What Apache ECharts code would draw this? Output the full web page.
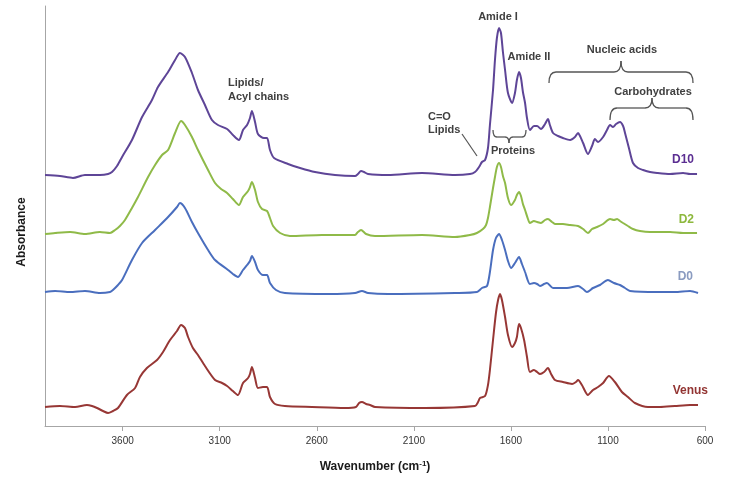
<!DOCTYPE html>
<html>
<head>
<meta charset="utf-8">
<script src="https://cdn.jsdelivr.net/npm/echarts@6/dist/echarts.min.js"></script>
<style>html,body{margin:0;padding:0;background:#fff}#c{width:738px;height:482px}</style>
</head>
<body>
<div id="c"></div>
<script>
// Tick labels of the wavenumber axis (cm-1)
var tickLabels = [3600, 3100, 2600, 2100, 1600, 1100, 600];

// D10
var wnD10 = [4000,3923,3856,3794,3717,3675,3655,3629,3603,3552,3500,3449,3418,3366,3330,3305,3279,3243,3212,3176,3140,3109,3062,3032,3001,2980,2959,2944,2934,2918,2903,2872,2856,2841,2820,2748,2686,2609,2506,2403,2388,2372,2357,2336,2233,2058,1888,1811,1785,1764,1749,1733,1718,1708,1692,1682,1672,1661,1651,1641,1630,1615,1594,1579,1569,1558,1548,1538,1527,1517,1502,1481,1465,1445,1424,1409,1399,1383,1357,1332,1295,1270,1254,1244,1228,1203,1182,1167,1151,1125,1105,1089,1074,1058,1038,1022,1012,992,971,945,919,883,847,780,713,677,641];
var absD10 = [2.51,2.50,2.48,2.51,2.51,2.52,2.54,2.60,2.69,2.86,3.09,3.26,3.39,3.54,3.66,3.73,3.69,3.53,3.36,3.21,3.06,3.01,2.97,2.91,2.86,2.96,3.01,3.08,3.15,3.04,2.92,2.88,2.88,2.76,2.68,2.62,2.58,2.54,2.51,2.50,2.52,2.55,2.54,2.52,2.51,2.53,2.51,2.52,2.54,2.59,2.64,2.66,2.78,3.01,3.36,3.66,3.88,3.98,3.93,3.74,3.56,3.33,3.23,3.33,3.46,3.54,3.48,3.34,3.23,3.08,2.96,3.00,3.00,2.97,3.02,3.07,3.01,2.93,2.90,2.88,2.86,2.89,2.93,2.90,2.83,2.72,2.80,2.87,2.84,2.89,2.96,3.01,2.99,3.02,3.04,3.00,2.93,2.78,2.63,2.58,2.56,2.54,2.53,2.52,2.53,2.52,2.52];

// D2
var wnD2 = [4000,3948,3871,3794,3717,3665,3639,3614,3588,3552,3521,3469,3433,3397,3366,3330,3299,3279,3243,3212,3160,3124,3093,3062,3032,3001,2980,2954,2944,2934,2918,2903,2882,2856,2841,2825,2789,2738,2573,2403,2388,2372,2346,2300,2058,1888,1811,1775,1744,1728,1718,1708,1692,1682,1672,1661,1651,1641,1630,1615,1599,1579,1569,1558,1548,1538,1527,1512,1502,1481,1465,1445,1424,1409,1388,1373,1332,1295,1254,1228,1203,1182,1156,1125,1089,1069,1053,1038,1022,997,971,935,883,832,780,713,641];
var absD2 = [1.92,1.93,1.94,1.92,1.94,1.93,1.96,2.00,2.06,2.18,2.29,2.49,2.61,2.71,2.76,2.93,3.05,3.01,2.89,2.76,2.56,2.43,2.37,2.33,2.27,2.21,2.29,2.35,2.39,2.44,2.36,2.24,2.17,2.15,2.08,2.00,1.93,1.90,1.91,1.91,1.94,1.96,1.92,1.90,1.91,1.89,1.91,1.93,1.97,2.01,2.08,2.19,2.38,2.49,2.59,2.63,2.59,2.50,2.43,2.28,2.21,2.26,2.31,2.34,2.30,2.22,2.16,2.07,2.03,2.05,2.04,2.03,2.06,2.07,2.04,2.02,2.02,2.01,2.00,1.97,1.93,1.97,1.99,2.02,2.07,2.06,2.07,2.05,2.03,2.00,1.97,1.95,1.94,1.94,1.94,1.93,1.93];

// D0
var wnD0 = [4000,3948,3871,3794,3717,3665,3650,3624,3603,3552,3500,3433,3366,3320,3305,3279,3243,3212,3160,3124,3057,3032,3006,2980,2959,2944,2934,2918,2903,2877,2856,2841,2810,2764,2532,2403,2367,2336,2233,1888,1775,1749,1723,1708,1692,1677,1661,1646,1630,1615,1599,1579,1558,1543,1527,1502,1481,1465,1450,1429,1414,1383,1311,1254,1228,1208,1177,1141,1100,1069,1038,1012,986,847,755,677,636];
var absD0 = [1.34,1.35,1.34,1.35,1.33,1.34,1.36,1.41,1.46,1.66,1.83,1.96,2.09,2.19,2.23,2.18,2.04,1.93,1.76,1.66,1.56,1.52,1.49,1.56,1.61,1.65,1.70,1.64,1.56,1.51,1.51,1.43,1.36,1.33,1.32,1.33,1.35,1.33,1.32,1.33,1.34,1.38,1.40,1.54,1.76,1.88,1.92,1.86,1.76,1.65,1.58,1.63,1.69,1.62,1.54,1.42,1.43,1.42,1.40,1.42,1.43,1.38,1.38,1.40,1.37,1.34,1.38,1.41,1.46,1.43,1.41,1.38,1.35,1.34,1.34,1.35,1.33];

// Venus
var wnVenus = [4000,3923,3845,3784,3758,3732,3701,3675,3650,3624,3578,3536,3511,3475,3423,3392,3356,3320,3299,3279,3263,3238,3212,3176,3124,3088,3062,3032,3006,2980,2954,2944,2934,2918,2903,2877,2856,2841,2815,2764,2625,2455,2398,2382,2367,2346,2326,2300,2042,1785,1769,1759,1733,1718,1708,1692,1677,1666,1656,1646,1630,1615,1594,1579,1569,1558,1548,1532,1517,1502,1481,1465,1450,1429,1409,1393,1373,1332,1285,1265,1254,1234,1203,1177,1151,1125,1095,1064,1028,997,961,894,832,755,677,636];
var absVenus = [0.19,0.20,0.19,0.21,0.20,0.18,0.15,0.13,0.15,0.18,0.31,0.38,0.49,0.58,0.66,0.74,0.86,0.95,1.01,0.98,0.89,0.78,0.71,0.60,0.46,0.43,0.40,0.35,0.31,0.43,0.48,0.52,0.59,0.48,0.38,0.39,0.39,0.29,0.22,0.20,0.19,0.18,0.19,0.23,0.24,0.22,0.21,0.19,0.18,0.20,0.24,0.28,0.30,0.41,0.56,0.86,1.13,1.26,1.32,1.26,1.09,0.91,0.79,0.83,0.89,1.02,0.98,0.86,0.69,0.54,0.56,0.54,0.52,0.54,0.58,0.52,0.46,0.44,0.42,0.44,0.46,0.41,0.31,0.36,0.39,0.43,0.50,0.44,0.34,0.29,0.23,0.19,0.19,0.20,0.21,0.21];

var seriesNames = ['D10', 'D2', 'D0', 'Venus'];

function zip(a, b) { return a.map(function (v, i) { return [v, b[i]]; }); }

var FONT = 'Liberation Sans, Arial, sans-serif';
var lineColors = { D10: '#5E4597', D2: '#8FBA48', D0: '#4A6EBE', Venus: '#973735' };
var labelColors = { D10: '#5B2E92', D2: '#8DB83D', D0: '#8A9BC0', Venus: '#923432' };
var seriesData = { D10: zip(wnD10, absD10), D2: zip(wnD2, absD2), D0: zip(wnD0, absD0), Venus: zip(wnVenus, absVenus) };

var chart = echarts.init(document.getElementById('c'), null, { renderer: 'canvas' });

var annoStyle = { fill: '#404040', font: 'bold 11px ' + FONT };
var braceStroke = { stroke: '#555555', lineWidth: 1.3, fill: null };

function txt(x, y, s, align) {
  return { type: 'text', x: x, y: y, style: Object.assign({ text: s, align: align || 'center', verticalAlign: 'middle' }, annoStyle) };
}
// curly brace: ends at yEnd, bar at yBar, tip at (xm, yTip), corner radius r
function brace(xl, xr, xm, yEnd, yBar, yTip, r) {
  var out = [];
  function bz(x1, y1, cx, cy, x2, y2) { out.push({ type: 'bezierCurve', shape: { x1: x1, y1: y1, cpx1: cx, cpy1: cy, x2: x2, y2: y2 }, style: braceStroke }); }
  function ln(x1, y1, x2, y2) { out.push({ type: 'line', shape: { x1: x1, y1: y1, x2: x2, y2: y2 }, style: braceStroke }); }
  bz(xl, yEnd, xl, yBar, xl + r, yBar);
  ln(xl + r, yBar, xm - r, yBar);
  bz(xm - r, yBar, xm, yBar, xm, yTip);
  bz(xm, yTip, xm, yBar, xm + r, yBar);
  ln(xm + r, yBar, xr - r, yBar);
  bz(xr - r, yBar, xr, yBar, xr, yEnd);
  return out;
}

var labelPos = { D10: [694, 160], D2: [694, 220], D0: [693, 277], Venus: [708, 391] };

var graphics = [
  { type: 'text', x: 22, y: 232, rotation: Math.PI / 2, style: { text: 'Absorbance', fill: '#1a1a1a', font: 'bold 12px ' + FONT, align: 'center', verticalAlign: 'middle' } },
  txt(498, 17, 'Amide I'),
  txt(529, 57, 'Amide II'),
  txt(622, 50, 'Nucleic acids'),
  txt(653, 92, 'Carbohydrates'),
  txt(513, 151, 'Proteins'),
  txt(428, 117, 'C=O', 'left'),
  txt(428, 130, 'Lipids', 'left'),
  txt(228, 83, 'Lipids/', 'left'),
  txt(228, 97, 'Acyl chains', 'left'),
  { type: 'line', shape: { x1: 462, y1: 134, x2: 477, y2: 156 }, style: { stroke: '#555555', lineWidth: 1.2 } }
]
  .concat(brace(549, 693, 621, 83, 72, 61, 7))
  .concat(brace(610, 693, 652, 120, 108, 98, 7))
  .concat(brace(493, 526, 509, 130, 137, 143, 4));

seriesNames.forEach(function (n) {
  var p = labelPos[n];
  graphics.push({ type: 'text', x: p[0], y: p[1], style: { text: n, fill: labelColors[n], font: 'bold 12px ' + FONT, align: 'right', verticalAlign: 'middle' } });
});

chart.setOption({
  animation: false,
  backgroundColor: '#ffffff',
  grid: { left: 45, right: 33, top: 6, bottom: 56, containLabel: false },
  xAxis: {
    type: 'value', inverse: true, min: 600, max: 4000,
    axisLine: { show: true, lineStyle: { color: '#A6A6A6', width: 1 } },
    axisTick: { show: true, length: 5, lineStyle: { color: '#A6A6A6' }, customValues: tickLabels },
    axisLabel: { customValues: tickLabels, fontSize: 10, color: '#333333', fontFamily: FONT, margin: 10, formatter: function (v) { return String(v); } },
    splitLine: { show: false },
    name: '{a|Wavenumber (cm}{s|-1}{a|)}',
    nameLocation: 'middle', nameGap: 34,
    nameTextStyle: {
      rich: {
        a: { fontSize: 12, fontWeight: 'bold', fontFamily: FONT, color: '#1a1a1a' },
        s: { fontSize: 8, fontWeight: 'bold', fontFamily: FONT, color: '#1a1a1a', verticalAlign: 'top', padding: [0, 0, 6, 0] }
      }
    }
  },
  yAxis: {
    type: 'value', min: 0, max: 4.2,
    axisLine: { show: true, lineStyle: { color: '#A6A6A6', width: 1 } },
    axisTick: { show: false }, axisLabel: { show: false }, splitLine: { show: false }
  },
  series: seriesNames.map(function (n) {
    return {
      name: n, type: 'line', data: seriesData[n], showSymbol: false, symbol: 'none', smooth: 0.25,
      lineStyle: { color: lineColors[n], width: 2 }, itemStyle: { color: lineColors[n] }, z: 3
    };
  }),
  graphic: graphics
});
</script>
</body>
</html>
